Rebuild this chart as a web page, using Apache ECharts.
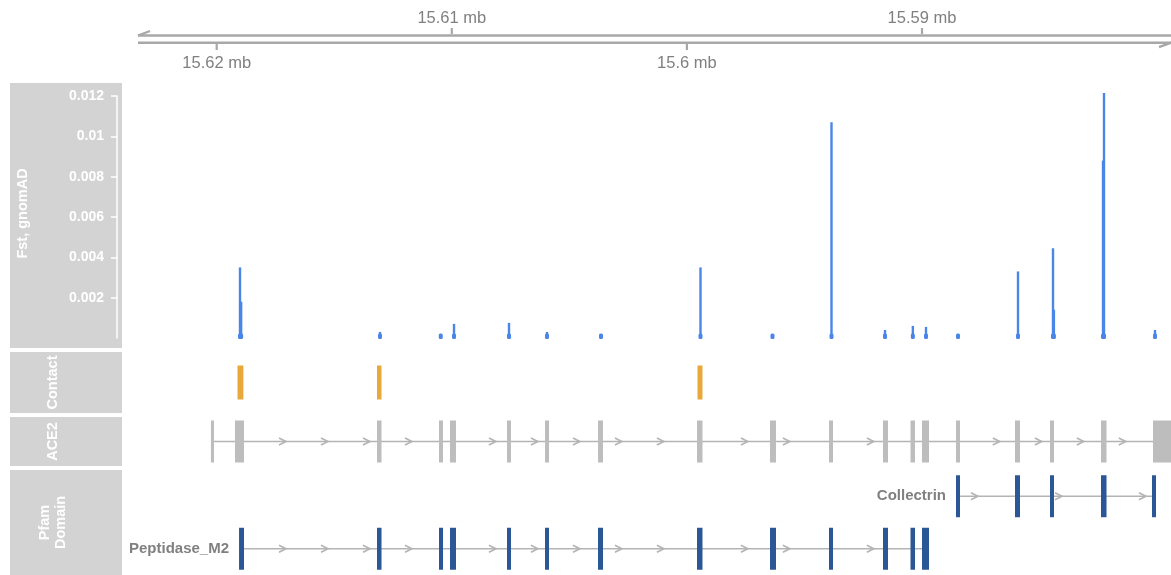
<!DOCTYPE html>
<html><head><meta charset="utf-8">
<script src="https://cdn.jsdelivr.net/npm/echarts@6/dist/echarts.min.js"></script>
<style>html,body{margin:0;padding:0;background:#fff}#c{width:1171px;height:575px}</style>
</head><body><div id="c"></div>
<script>
// ---- data (genomic positions in bp, chr X, reversed view) ----
const viewMin = 15579409, viewMax = 15623943;
const rulerStart = 15623347;
const rulerTicks = [15620000, 15610000, 15600000, 15590000];
const rulerLabels = ['15.62 mb', '15.61 mb', '15.6 mb', '15.59 mb'];
const fstTicks = [0.002, 0.004, 0.006, 0.008, 0.01, 0.012];
const fstPos = [15619009, 15618960, 15613054, 15610470, 15609906, 15607567, 15605951, 15603654,
  15599422, 15596360, 15593850, 15591574, 15590390, 15589830, 15588469, 15585917,
  15584428, 15584390, 15582259, 15582300, 15580089];
const fstVal = [0.0035, 0.0018, 0.0003, 0.0002, 0.0007, 0.00075, 0.0003, 0.00012,
  0.0035, 0.00012, 0.0107, 0.0004, 0.0006, 0.00055, 0.0002, 0.0033,
  0.00445, 0.0014, 0.01215, 0.0088, 0.0004];
const contactRegions = [[15618866, 15619115], [15612990, 15613182], [15599337, 15599550]];
const ace2Exons = [[15620115, 15620245], [15618839, 15619222], [15612990, 15613182], [15610374, 15610545],
  [15609821, 15610077], [15607482, 15607652], [15605866, 15606036], [15603569, 15603781],
  [15599337, 15599570], [15596210, 15596465], [15593786, 15593956], [15591446, 15591659],
  [15590298, 15590489], [15589702, 15590001], [15588384, 15588554], [15585832, 15586044],
  [15584386, 15584556], [15582152, 15582386], [15578740, 15580174]];
const peptidaseExons = [[15618839, 15619050], [15612990, 15613182], [15610374, 15610545],
  [15609821, 15610077], [15607482, 15607652], [15605866, 15606036], [15603569, 15603781],
  [15599337, 15599570], [15596210, 15596465], [15593786, 15593956], [15591446, 15591659],
  [15590298, 15590489], [15589702, 15590001]];
const collectrinExons = [[15588384, 15588554], [15585832, 15586044], [15584386, 15584556],
  [15582152, 15582386], [15580046, 15580217]];
const domainNames = ['Collectrin', 'Peptidase_M2'];
const trackTitles = ['Fst, gnomAD', 'Contact', 'ACE2', 'Pfam\nDomain'];

// ---- styling ----
const GREY_PANEL = '#d3d3d3', LINE = '#b4b4b4', EXON = '#bdbdbd', DOM = '#2b5797', BLUE = '#4a86e8', CONTACT = '#e8a83a';
const FONT = 'Liberation Sans, Arial, Helvetica, sans-serif';
const chart = echarts.init(document.getElementById('c'), null, {renderer: 'canvas'});

const L = 124;
const grids = [
  {left: L, right: 0, top: 0, height: 80},
  {left: L, right: 0, top: 96, height: 242},
  {left: L, right: 0, top: 352, height: 61},
  {left: L, right: 0, top: 417, height: 49},
  {left: L, right: 0, top: 470, height: 105}
];
const xAxes = grids.map((g, i) => ({gridIndex: i, type: 'value', min: viewMin, max: viewMax, inverse: true, show: false}));
const yAxes = [
  {gridIndex: 0, type: 'value', min: 0, max: 80, inverse: true, show: false},
  {gridIndex: 1, type: 'value', min: 0, max: 0.012, position: 'left', offset: 7,
    axisLine: {show: true, lineStyle: {color: '#fff', width: 1.5}},
    axisTick: {show: true, length: 6, lineStyle: {color: '#fff', width: 1.5}, customValues: fstTicks},
    axisLabel: {color: '#fff', fontSize: 14, fontWeight: 'bold', fontFamily: FONT, margin: 13, customValues: fstTicks},
    splitLine: {show: false}},
  {gridIndex: 2, type: 'value', min: 0, max: 1, show: false},
  {gridIndex: 3, type: 'value', min: 0, max: 1, show: false},
  {gridIndex: 4, type: 'category', data: domainNames, inverse: true, show: false}
];

function exonRender(color, h) {
  return function (params, api) {
    const lo = api.value(0), hi = api.value(1);
    const cs = params.coordSys;
    const yc = api.value(2) != null && !isNaN(api.value(2)) ? api.coord([lo, api.value(2)])[1] : cs.y + cs.height / 2;
    let x1 = api.coord([hi, 0])[0], x2 = api.coord([lo, 0])[0];
    x2 = Math.min(x2, cs.x + cs.width);
    x1 = Math.max(x1, cs.x);
    return {type: 'rect', shape: {x: x1, y: yc - h / 2, width: Math.max(1.5, x2 - x1), height: h}, style: {fill: color}};
  };
}

function intronRender(exonSets, anchors, steps, labels) {
  return function (params, api) {
    const idx = params.dataIndex;
    const lo = api.value(0), hi = api.value(1), row = api.value(2);
    const cs = params.coordSys;
    const yc = api.coord([lo, row])[1];
    const xa = Math.max(cs.x, api.coord([hi, row])[0]);
    const xb = Math.min(cs.x + cs.width, api.coord([lo, row])[0]);
    const children = [{type: 'line', shape: {x1: xa, y1: yc, x2: xb, y2: yc}, style: {stroke: LINE, lineWidth: 1.6}}];
    const exPx = exonSets[idx].map(e => [api.coord([e[1], row])[0], api.coord([e[0], row])[0]]);
    const anchor = anchors[idx], step = steps[idx];
    const kMin = Math.ceil((anchor - hi) / step), kMax = Math.floor((anchor - lo) / step);
    for (let k = kMin; k <= kMax; k++) {
      const px = api.coord([anchor - k * step, row])[0];
      if (px < xa + 4 || px > xb - 4) continue;
      if (exPx.some(r => px > r[0] - 4 && px < r[1] + 4)) continue;
      children.push({type: 'polyline', shape: {points: [[px - 4, yc - 3.5], [px + 3, yc], [px - 4, yc + 3.5]]},
        style: {stroke: LINE, lineWidth: 1.6, fill: null}});
    }
    if (labels && labels[idx]) {
      children.push({type: 'text', style: {text: labels[idx], x: xa - 10, y: yc, align: 'right', verticalAlign: 'middle',
        fill: '#808080', font: 'bold 15px ' + FONT}});
    }
    return {type: 'group', children: children};
  };
}

const series = [
  // ruler lines
  {type: 'custom', xAxisIndex: 0, yAxisIndex: 0, clip: false, silent: true,
    data: [[rulerStart, viewMin]],
    renderItem: function (params, api) {
      const a = api.coord([api.value(0), 35.5]), b = api.coord([api.value(1), 42.7]);
      const st = {stroke: '#a8a8a8', lineWidth: 2.4};
      return {type: 'group', children: [
        {type: 'line', shape: {x1: a[0], y1: a[1], x2: b[0], y2: a[1]}, style: st},
        {type: 'line', shape: {x1: a[0], y1: b[1], x2: b[0], y2: b[1]}, style: st},
        {type: 'line', shape: {x1: a[0], y1: a[1], x2: a[0] + 12, y2: a[1] - 4.5}, style: st},
        {type: 'line', shape: {x1: b[0], y1: b[1], x2: b[0] - 12, y2: b[1] + 4.5}, style: st}
      ]};
    }},
  // ruler ticks
  {type: 'custom', xAxisIndex: 0, yAxisIndex: 0, clip: false, silent: true,
    data: rulerTicks.map((t, i) => [t, i]),
    renderItem: function (params, api) {
      const i = api.value(1);
      const below = i % 2 === 0;
      const p = api.coord([api.value(0), below ? 44 : 34]);
      const st = {stroke: '#a8a8a8', lineWidth: 2.2};
      return {type: 'group', children: [
        {type: 'line', shape: {x1: p[0], y1: p[1], x2: p[0], y2: p[1] + (below ? 6 : -6)}, style: st},
        {type: 'text', style: {text: rulerLabels[i], x: p[0], y: below ? p[1] + 19 : p[1] - 16, align: 'center', verticalAlign: 'middle',
          fill: '#808080', font: '16.5px ' + FONT}}
      ]};
    }},
  // Fst histogram
  {type: 'custom', xAxisIndex: 1, yAxisIndex: 1, clip: false, silent: true,
    data: fstPos.map((p, i) => [p, fstVal[i]]),
    renderItem: function (params, api) {
      const x = api.value(0), v = api.value(1);
      const p0 = api.coord([x, 0]), p1 = api.coord([x, v]);
      return {type: 'group', children: [
        {type: 'line', shape: {x1: p0[0], y1: p0[1], x2: p1[0], y2: p1[1]}, style: {stroke: BLUE, lineWidth: 2.4}},
        {type: 'rect', shape: {x: p0[0] - 2, y: p0[1] - 4.5, width: 4, height: 5.5, r: 1.5}, style: {fill: BLUE}}
      ]};
    }},
  // Contact
  {type: 'custom', xAxisIndex: 2, yAxisIndex: 2, silent: true,
    data: contactRegions, renderItem: exonRender(CONTACT, 34)},
  // ACE2 intron line + arrows
  {type: 'custom', xAxisIndex: 3, yAxisIndex: 3, silent: true,
    data: [[ace2Exons[ace2Exons.length - 1][0], ace2Exons[0][1], 0.5]],
    renderItem: intronRender([ace2Exons], [15617180], [1786], null)},
  {type: 'custom', xAxisIndex: 3, yAxisIndex: 3, silent: true,
    data: ace2Exons, renderItem: exonRender(EXON, 42)},
  // Pfam domains
  {type: 'custom', xAxisIndex: 4, yAxisIndex: 4, silent: true,
    data: [[collectrinExons[collectrinExons.length - 1][0], collectrinExons[0][1], 0],
           [peptidaseExons[peptidaseExons.length - 1][0], peptidaseExons[0][1], 1]],
    renderItem: intronRender([collectrinExons, peptidaseExons], [15587746, 15617180], [3573, 1786], domainNames)},
  {type: 'custom', xAxisIndex: 4, yAxisIndex: 4, silent: true,
    data: collectrinExons.map(e => [e[0], e[1], 0]).concat(peptidaseExons.map(e => [e[0], e[1], 1])),
    renderItem: exonRender(DOM, 42)}
];

const panels = [[83, 265], [352, 61], [417, 49], [470, 105]];
const titleX = [23, 53, 53, 53];
const graphic = [];
panels.forEach((p, i) => {
  graphic.push({type: 'rect', left: 10, top: p[0], shape: {width: 112, height: p[1]}, style: {fill: GREY_PANEL}, z: -10, silent: true});
  graphic.push({type: 'text', x: titleX[i], y: p[0] + p[1] / 2 + (i === 0 ? -2 : 0), rotation: Math.PI / 2,
    style: {text: trackTitles[i], fill: '#fff', font: 'bold 14.5px ' + FONT, align: 'center', verticalAlign: 'middle', lineHeight: 16}, z: -9, silent: true});
});

chart.setOption({
  animation: false,
  grid: grids, xAxis: xAxes, yAxis: yAxes, series: series, graphic: graphic
});
</script></body></html>
